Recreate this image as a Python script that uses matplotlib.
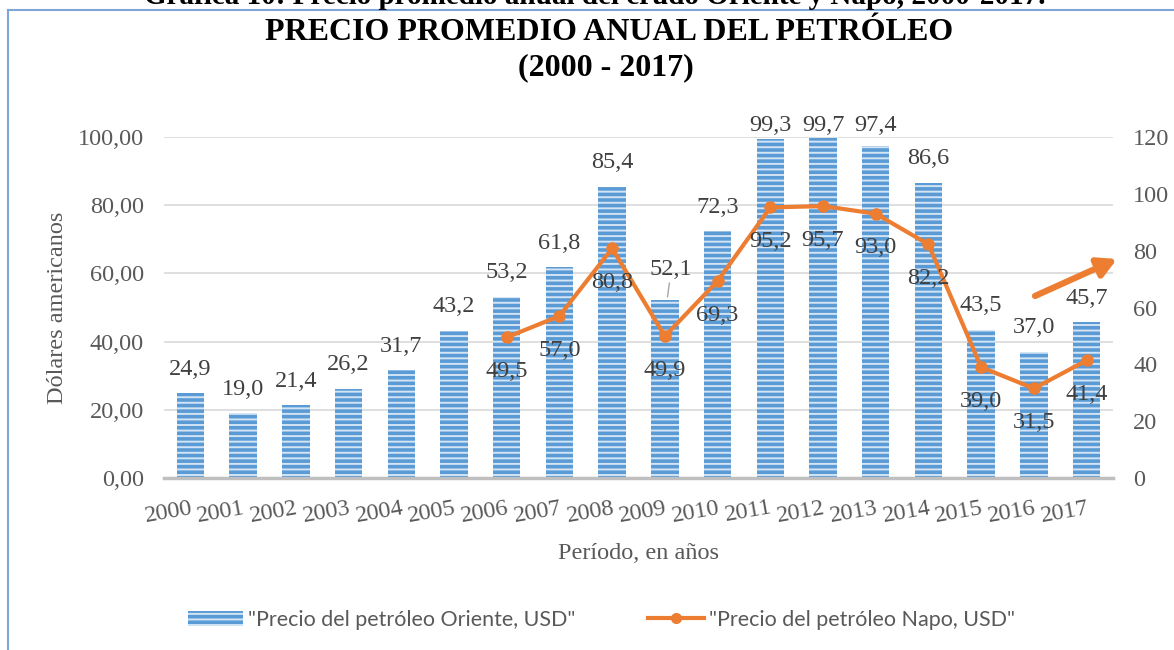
import numpy as np
import matplotlib
matplotlib.use("Agg")
import matplotlib.pyplot as plt
from matplotlib.lines import Line2D

plt.rcParams['font.family'] = 'Liberation Serif'
plt.rcParams['hatch.linewidth'] = 1.4

# data
years = [str(y) for y in range(2000, 2018)]
oriente = [24.9, 19.0, 21.4, 26.2, 31.7, 43.2, 53.2, 61.8, 85.4, 52.1,
           72.3, 99.3, 99.7, 97.4, 86.6, 43.5, 37.0, 45.7]
napo_years = [str(y) for y in range(2006, 2018)]
napo = [49.5, 57.0, 80.8, 49.9, 69.3, 95.2, 95.7, 93.0, 82.2, 39.0, 31.5, 41.4]

left_ticks = [0, 20, 40, 60, 80, 100]
right_ticks = [0, 20, 40, 60, 80, 100, 120]

BLUE = '#5B9BD5'
ORANGE = '#ED7D31'
TXT = '#404040'
GRAY = '#595959'
FS = 17.5

def coma(v, d=1):
    return f"{v:.{d}f}".replace('.', ',')

fig = plt.figure(figsize=(11.74, 6.5), dpi=100)
ax = fig.add_axes([164/1174, 1 - 478/650, (1113 - 164)/1174, (478 - 137)/650])
ax2 = ax.twinx()

x = np.arange(len(years))
bars = ax.bar(x, oriente, width=0.52, color=BLUE, edgecolor='#D3E4F5',
              linewidth=0, hatch='---', label='"Precio del petróleo Oriente, USD"',
              zorder=2)

ax.set_xlim(-0.5, len(years) - 0.5)
ax.set_ylim(0, 100)
ax.set_yticks(left_ticks)
ax.set_yticklabels([coma(t, 2) for t in left_ticks], fontsize=FS, color=GRAY)
ax.yaxis.grid(True, color='#D9D9D9', linewidth=1.2, zorder=0)
ax.set_axisbelow(True)
for s in ['top', 'right', 'left']:
    ax.spines[s].set_visible(False)
ax.spines['bottom'].set_color('#BFBFBF')
ax.spines['bottom'].set_linewidth(2.5)
ax.tick_params(axis='y', length=0, pad=14.5)
ax.tick_params(axis='x', length=0, pad=14)
ax.set_xticks(x)
ax.set_xticklabels(years, fontsize=FS, color=GRAY, rotation=10,
                   ha='right', va='top', rotation_mode='anchor')
ax.set_ylabel('Dólares americanos', fontsize=FS, color=GRAY, labelpad=7)
ax.set_xlabel('Período, en años', fontsize=FS, color=GRAY, labelpad=12)

# bar value labels
for i, v in enumerate(oriente):
    if years[i] == '2009':
        ax.annotate(coma(v), xy=(i + 0.05, v + 1.0), xytext=(i + 0.12, v + 9.0),
                    ha='center', va='center', fontsize=FS, color=TXT,
                    arrowprops=dict(arrowstyle='-', color='#A6A6A6', lw=1,
                                    shrinkA=11, shrinkB=0),
                    zorder=5)
    else:
        ax.text(i, min(v + 7.0, 103.5), coma(v), ha='center', va='center',
                fontsize=FS, color=TXT, zorder=5, clip_on=False)

# napo line on secondary axis
xn = [years.index(y) for y in napo_years]
ax2.plot(xn, napo, color=ORANGE, linewidth=3, marker='o', markersize=8,
         zorder=4)
for i, v in zip(xn, napo):
    ax2.text(i, v - 12, coma(v), ha='center', va='center', fontsize=FS,
             color=TXT, zorder=6)
ax2.set_ylim(0, 120)
ax2.set_yticks(right_ticks)
ax2.set_yticklabels([str(t) for t in right_ticks], fontsize=FS, color=GRAY)
ax2.tick_params(axis='y', length=0, pad=14.5)
for s in ['top', 'right', 'left', 'bottom']:
    ax2.spines[s].set_visible(False)

# arrow annotation
ax2.annotate('', xy=(1117, 650 - 259), xytext=(1035, 650 - 296),
             xycoords='figure pixels', textcoords='figure pixels',
             arrowprops=dict(arrowstyle='-|>,head_length=1.1,head_width=0.6',
                             color=ORANGE, lw=4.5, shrinkA=0, shrinkB=0))

# titles
fig.text(0.507, 1 - 4/650, 'Gráfica 10: Precio promedio anual del crudo Oriente y Napo, 2000-2017.',
         ha='center', va='baseline', fontsize=21, fontweight='bold', color='black')
fig.text(0.519, 1 - 33/650, 'PRECIO PROMEDIO ANUAL DEL PETRÓLEO', ha='center',
         va='center', fontsize=23, fontweight='bold', color='black')
fig.text(0.516, 1 - 68/650, '(2000 - 2017)', ha='center', va='center',
         fontsize=23, fontweight='bold', color='black')

# frame
fig.add_artist(Line2D([8/1174, 8/1174], [0, 1 - 10/650], color='#7DA7D9', lw=1.5))
fig.add_artist(Line2D([8/1174, 1], [1 - 10/650, 1 - 10/650], color='#7DA7D9', lw=1.5))

# legend
h_line = Line2D([], [], color=ORANGE, linewidth=3, marker='o', markersize=7,
                label='"Precio del petróleo Napo, USD"')
fig.legend(handles=[bars, h_line], loc='center', bbox_to_anchor=(0.512, 1 - 620/650),
           ncol=2, frameon=False, prop={'family': 'Lato', 'size': 15.5},
           labelcolor=GRAY, handlelength=2.6, handleheight=0.7,
           columnspacing=3.4, handletextpad=0.2)

fig.savefig('out.png', dpi=100)
